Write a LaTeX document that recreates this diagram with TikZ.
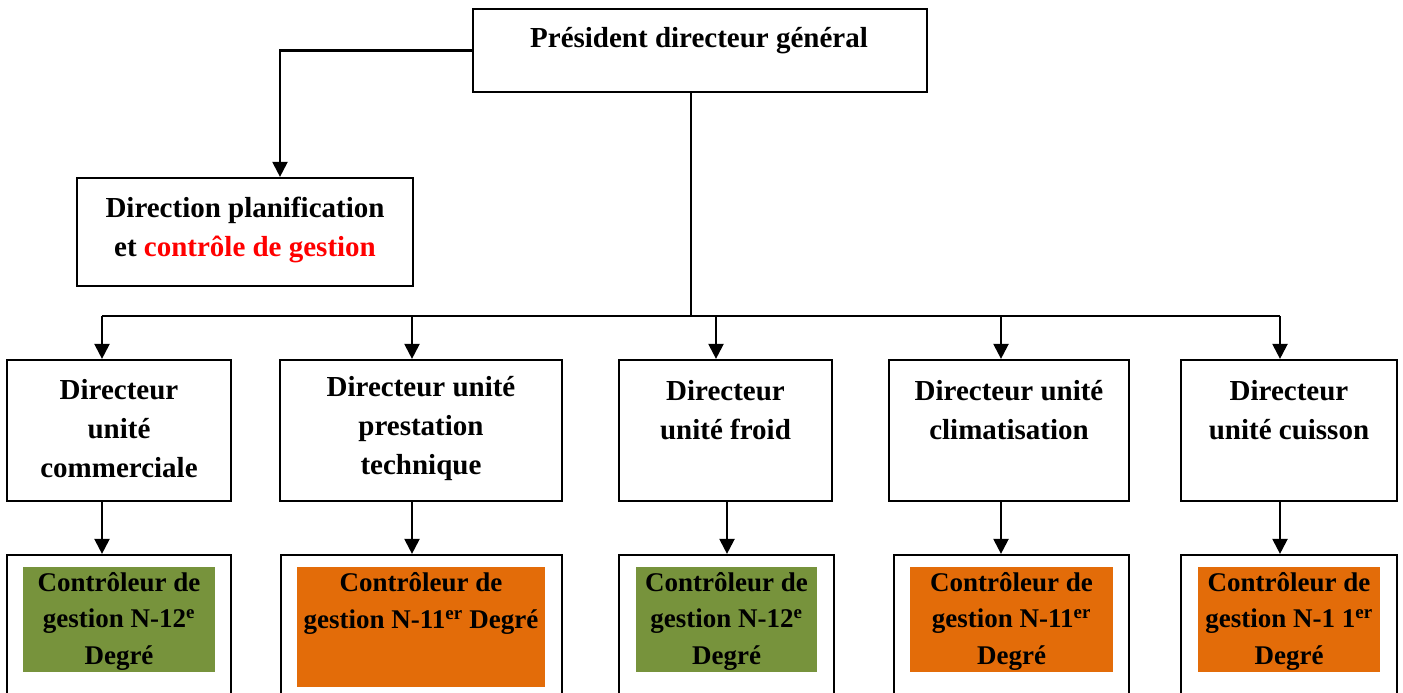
\documentclass[tikz,border=0pt]{standalone}
\usepackage{fontspec}
\setmainfont{Liberation Serif}
\usetikzlibrary{arrows.meta}
\definecolor{olivefill}{HTML}{77933C}
\definecolor{orangefill}{HTML}{E36C09}
\begin{document}
\begin{tikzpicture}[x=1pt,y=-1pt,
  box/.style={draw, line width=2.2pt, inner sep=0pt},
  lbl/.style={font=\fontsize{29}{39}\selectfont\bfseries, align=center, inner sep=0pt},
  slbl/.style={font=\fontsize{27}{36.5}\selectfont\bfseries, align=center, inner sep=0pt},
  patch/.style={draw=none, inner sep=0pt},
  link/.style={line width=2.2pt},
  arr/.style={link, -{Triangle[length=15pt,width=15pt]}}]
\clip (0,0) rectangle (1403,693);

% top level
\node[box, minimum width=454pt, minimum height=83pt] (pdg) at (700,50.5) {};
\node[lbl] (pdgt) at (699,41) {Président directeur général};

\node[box, minimum width=336pt, minimum height=108pt] (dp) at (245,232) {};
\node[lbl] (dpt) at (245,230) {Direction planification\\et \textcolor{red}{contrôle de gestion}};

% unit directors
\node[box, minimum width=224pt, minimum height=141pt] (b1) at (119,430.5) {};
\node[box, minimum width=282pt, minimum height=141pt] (b2) at (421,430.5) {};
\node[box, minimum width=213pt, minimum height=141pt] (b3) at (725.5,430.5) {};
\node[box, minimum width=240pt, minimum height=141pt] (b4) at (1009,430.5) {};
\node[box, minimum width=216pt, minimum height=141pt] (b5) at (1289,430.5) {};

\node[lbl] (b1t) at (119,429) {Directeur\\unité\\commerciale};
\node[lbl] (b2t) at (421,429) {Directeur unité\\prestation\\technique};
\node[lbl] (b3t) at (725.5,410.5) {Directeur\\unité froid};
\node[lbl] (b4t) at (1009,410.5) {Directeur unité\\climatisation};
\node[lbl] (b5t) at (1289,410.5) {Directeur\\unité cuisson};

% controllers
\node[box, minimum width=224pt, minimum height=205pt] (c1) at (119,657.5) {};
\node[box, minimum width=281pt, minimum height=205pt] (c2) at (421.5,657.5) {};
\node[box, minimum width=215pt, minimum height=205pt] (c3) at (726.5,657.5) {};
\node[box, minimum width=235pt, minimum height=205pt] (c4) at (1011.5,657.5) {};
\node[box, minimum width=216pt, minimum height=205pt] (c5) at (1289,657.5) {};

\node[patch, fill=olivefill, minimum width=192pt, minimum height=105pt] (f1) at (119,619.5) {};
\node[patch, fill=orangefill, minimum width=248pt, minimum height=120pt] (f2) at (421,627) {};
\node[patch, fill=olivefill, minimum width=181pt, minimum height=105pt] (f3) at (726.5,619.5) {};
\node[patch, fill=orangefill, minimum width=203pt, minimum height=105pt] (f4) at (1011.5,619.5) {};
\node[patch, fill=orangefill, minimum width=182pt, minimum height=105pt] (f5) at (1289,619.5) {};

\node[slbl] (f1t) at (119,621) {Contrôleur de\\gestion N-12\textsuperscript{e}\\Degré};
\node[slbl] (f2t) at (421,603.5) {Contrôleur de\\gestion N-11\textsuperscript{er} Degré};
\node[slbl] (f3t) at (726.5,621) {Contrôleur de\\gestion N-12\textsuperscript{e}\\Degré};
\node[slbl] (f4t) at (1011.5,621) {Contrôleur de\\gestion N-11\textsuperscript{er}\\Degré};
\node[slbl] (f5t) at (1289,621) {Contrôleur de\\gestion N-1 1\textsuperscript{er}\\Degré};

% connector columns
\coordinate (xd) at (280,0);
\coordinate (xp) at (691,0);
\coordinate (bus) at (691,316);
\coordinate (x1) at (102,0);
\coordinate (x2) at (412,0);
\coordinate (x3) at (716,0);
\coordinate (x3b) at (727,0);
\coordinate (x4) at (1001,0);
\coordinate (x5) at (1280,0);

% connectors
\draw[arr] (pdg.west) -| (dp.north -| xd);
\draw[link] (pdg.south -| xp) -- (bus);
\draw[link] (bus -| x1) -- (bus -| x5);
\draw[arr] (bus -| x1) -- (b1.north -| x1);
\draw[arr] (bus -| x2) -- (b2.north -| x2);
\draw[arr] (bus -| x3) -- (b3.north -| x3);
\draw[arr] (bus -| x4) -- (b4.north -| x4);
\draw[arr] (bus -| x5) -- (b5.north -| x5);

\draw[arr] (b1.south -| x1) -- (c1.north -| x1);
\draw[arr] (b2.south -| x2) -- (c2.north -| x2);
\draw[arr] (b3.south -| x3b) -- (c3.north -| x3b);
\draw[arr] (b4.south -| x4) -- (c4.north -| x4);
\draw[arr] (b5.south -| x5) -- (c5.north -| x5);
\end{tikzpicture}
\end{document}
